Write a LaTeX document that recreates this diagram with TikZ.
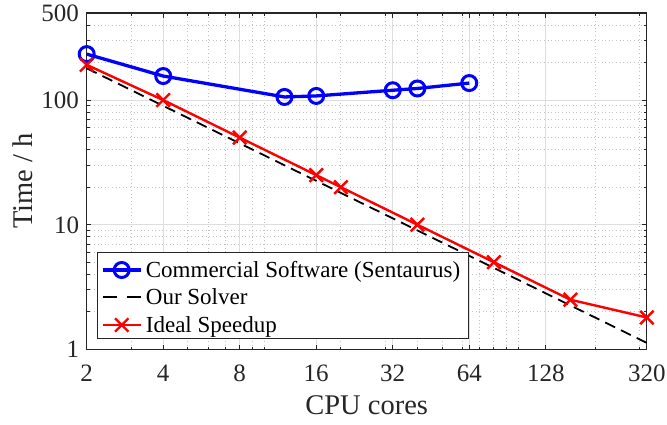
\documentclass[tikz,border=0pt]{standalone}
\usepackage{fontspec}
\setmainfont{Liberation Serif}
\usetikzlibrary{shapes.misc}
\definecolor{axcol}{rgb}{0.15,0.15,0.15}
\definecolor{majgrid}{rgb}{0.87,0.87,0.87}
\definecolor{mingridc}{rgb}{0.76,0.76,0.76}
\tikzset{
  declare function={lx(\v)=ln(\v/2)/ln(2); ly(\v)=ln(\v)/ln(10);},
  mingrid/.style={draw=mingridc,line width=0.8pt,dash pattern=on 1pt off 2.6pt},
  majorgrid/.style={draw=majgrid,line width=1pt},
  axisline/.style={draw=axcol,line width=1.1pt},
  tickline/.style={draw=axcol,line width=0.9pt},
  ticklab/.style={font=\fontsize{25}{28}\selectfont,text=axcol,inner sep=0pt},
  axlab/.style={font=\fontsize{28.5}{31}\selectfont,text=axcol,inner sep=0pt},
  leglab/.style={font=\fontsize{23}{26}\selectfont,text=black,inner sep=0pt,anchor=base west},
  blueline/.style={draw=blue,line width=3.3pt,line join=round},
  bluemark/.style={circle,draw=blue,line width=3pt,minimum size=15pt,inner sep=0pt},
  redline/.style={draw=red,line width=2.4pt,line join=round},
  redmark/.style={cross out,draw=red,line width=2.4pt,minimum size=11pt,inner sep=0pt},
  idealline/.style={draw=black,line width=1.8pt,dash pattern=on 11pt off 6.5pt},
  legendbox/.style={draw=axcol,fill=white,line width=1.1pt},
}
\begin{document}
\begin{tikzpicture}[x=1pt,y=1pt]
\useasboundingbox (0,0) rectangle (667,424);
\begin{scope}[shift={(86.7,74.7)},x=76.5pt,y=124.6pt]
  % minor grid
  \foreach \v in {3,5,6,7,9,10,20,30,40,50,60,70,80,90,100,200,300}
    \draw[mingrid] ({lx(\v)},0) -- ({lx(\v)},2.69897);
  \foreach \v in {2,...,9,20,30,...,90,200,300,400}
    \draw[mingrid] (0,{ly(\v)}) -- (7.32193,{ly(\v)});
  % major grid
  \foreach \v in {4,8,16,32,64,128}
    \draw[majorgrid] ({lx(\v)},0) -- ({lx(\v)},2.69897);
  \foreach \v in {10,100}
    \draw[majorgrid] (0,{ly(\v)}) -- (7.32193,{ly(\v)});
  % ticks
  \foreach \v in {4,8,16,32,64,128}{
    \draw[tickline] ({lx(\v)},0) -- ++(0pt,4.5pt);
    \draw[tickline] ({lx(\v)},2.69897) -- ++(0pt,-4.5pt);}
  \foreach \v in {3,5,6,7,9,10,20,30,40,50,60,70,80,90,100,200,300}{
    \draw[tickline] ({lx(\v)},0) -- ++(0pt,2.8pt);
    \draw[tickline] ({lx(\v)},2.69897) -- ++(0pt,-2.8pt);}
  \foreach \v in {10,100}{
    \draw[tickline] (0,{ly(\v)}) -- ++(4.5pt,0pt);
    \draw[tickline] (7.32193,{ly(\v)}) -- ++(-4.5pt,0pt);}
  \foreach \v in {2,...,9,20,30,...,90,200,300,400}{
    \draw[tickline] (0,{ly(\v)}) -- ++(2.8pt,0pt);
    \draw[tickline] (7.32193,{ly(\v)}) -- ++(-2.8pt,0pt);}
  % axis box
  \draw[axisline] (0,0) rectangle (7.32193,2.69897);
  % tick labels
  \foreach \v in {2,4,8,16,32,64,128,320}
    \node[ticklab,anchor=base] (xt\v) at ({lx(\v)},0) [yshift=-32pt] {\v};
  \foreach \v in {1,10,100,500}
    \node[ticklab,anchor=base east] (yt\v) at (0,{ly(\v)}) [xshift=-7.5pt,yshift=-8.4pt] {\v};
  % data coordinates
  \coordinate (b1) at ({lx(2)},{ly(234)});
  \coordinate (b2) at ({lx(4)},{ly(156)});
  \coordinate (b3) at ({lx(12)},{ly(106)});
  \coordinate (b4) at ({lx(16)},{ly(108)});
  \coordinate (b5) at ({lx(32)},{ly(120)});
  \coordinate (b6) at ({lx(40)},{ly(124)});
  \coordinate (b7) at ({lx(64)},{ly(137)});
  \coordinate (d1) at ({lx(2)},{ly(180)});
  \coordinate (d2) at ({lx(320)},{ly(1.125)});
  \coordinate (r1) at ({lx(2)},{ly(192)});
  \coordinate (r2) at ({lx(4)},{ly(100)});
  \coordinate (r3) at ({lx(8)},{ly(50)});
  \coordinate (r4) at ({lx(16)},{ly(25)});
  \coordinate (r5) at ({lx(20)},{ly(20)});
  \coordinate (r6) at ({lx(40)},{ly(10)});
  \coordinate (r7) at ({lx(80)},{ly(5)});
  \coordinate (r8) at ({lx(160)},{ly(2.5)});
  \coordinate (r9) at ({lx(320)},{ly(1.8)});
  % series
  \draw[blueline] (b1) -- (b2) -- (b3) -- (b4) -- (b5) -- (b6) -- (b7);
  \foreach \i in {1,...,7} \node[bluemark] (bm\i) at (b\i) {};
  \draw[idealline] (d1) -- (d2);
  \draw[redline] (r1) -- (r2) -- (r3) -- (r4) -- (r5) -- (r6) -- (r7) -- (r8) -- (r9);
  \foreach \i in {1,...,9} \node[redmark] (rm\i) at (r\i) {};
\end{scope}
% axis labels
\node[axlab,anchor=base] (xlabel) at (366.7,9.5) {CPU cores};
\node[axlab,anchor=base,rotate=90] (ylabel) at (32,243) {Time / h};
% legend
\node[legendbox,minimum width=370.4pt,minimum height=86pt,inner sep=0pt,anchor=south west] (legend) at (97.3,84.7) {};
\coordinate (l1a) at (102.7,154); \coordinate (l1b) at (140.7,154);
\coordinate (l2a) at (102.7,127); \coordinate (l2b) at (140.7,127);
\coordinate (l3a) at (102.7,99);  \coordinate (l3b) at (140.7,99);
\draw[blueline] (l1a) -- (l1b);
\node[bluemark] (lm1) at (121.7,154) {};
\draw[idealline,dash pattern=on 14pt off 10pt] (l2a) -- (l2b);
\draw[redline] (l3a) -- (l3b);
\node[redmark] (lm3) at (121.7,99) {};
\node[leglab] (e1) at (145.7,146.7) {Commercial Software (Sentaurus)};
\node[leglab] (e2) at (145.7,119.5) {Our Solver};
\node[leglab] (e3) at (145.7,91.7) {Ideal Speedup};
\end{tikzpicture}
\end{document}
